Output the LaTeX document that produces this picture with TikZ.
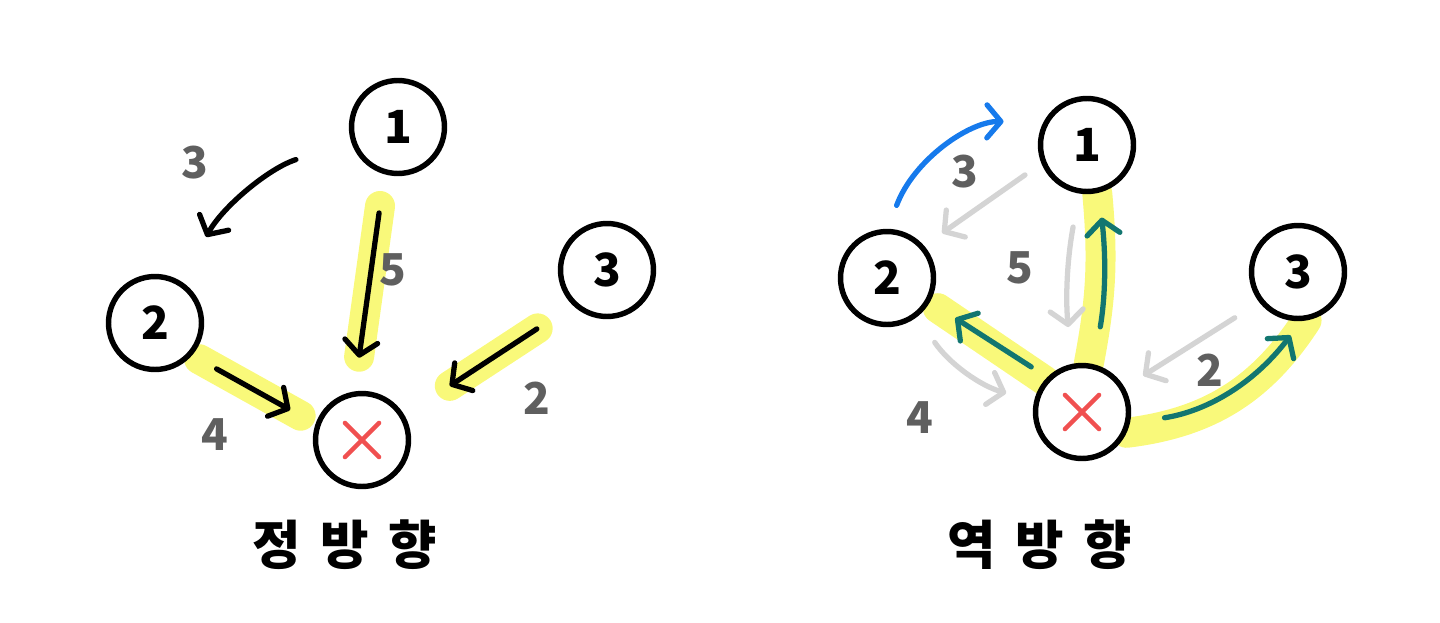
\documentclass[tikz,border=0pt]{standalone}
\usepackage{fontspec}
\usepackage{xcolor}
\usepackage{tikz}
\usetikzlibrary{arrows.meta,positioning}
\newfontfamily\kr{Noto Sans CJK KR}
\newfontfamily\krwide{Noto Sans CJK KR}[WordSpace=1.6]
\definecolor{hlyellow}{RGB}{249,249,122}
\definecolor{wgray}{RGB}{95,95,95}
\definecolor{ghostgray}{RGB}{212,212,212}
\definecolor{deepteal}{RGB}{18,118,112}
\definecolor{skyblue}{RGB}{22,122,236}
\definecolor{xred}{RGB}{240,80,80}
\pgfdeclarelayer{bg}
\pgfsetlayers{bg,main}

\begin{document}
\begin{tikzpicture}[x=0.02cm,y=-0.02cm,>={Straight Barb[length=2.8mm,width=6.6mm,round]},
  vertex/.style={circle,draw,fill=white,line width=3.1pt,minimum size=1.86cm,inner sep=0pt,
                 font=\kr\bfseries\fontsize{26}{26}\selectfont},
  weight/.style={text=wgray,font=\kr\bfseries\fontsize{25}{25}\selectfont},
  caption/.style={font=\krwide\bfseries\fontsize{30}{30}\selectfont},
  flow/.style={->,line width=3pt,line cap=round},
  glow/.style={draw=hlyellow,line width=0.6cm,line cap=round},
  cross/.style={draw=xred,line width=2.6pt,line cap=round}]
  \useasboundingbox (0,0) rectangle (1440,622);

  % forward
  \node[vertex] (l1) at (398,127) {1};
  \node[vertex] (l2) at (155,323) {2};
  \node[vertex] (l3) at (607,270) {3};
  \node[vertex] (lx) at (362,440) {};
  \begin{pgfonlayer}{bg}
    \draw[glow,shorten <=0.64cm,shorten >=0.7cm] (l1.254) -- (lx.99);
    \draw[glow,shorten <=0.16cm,shorten >=0.34cm] (l2.319) -- (lx.161);
    \draw[glow,shorten <=0.84cm,shorten >=1.08cm] (l3.226) -- (lx.30);
  \end{pgfonlayer}
  \draw[flow,shorten <=1.16cm,shorten >=1.02cm] (l1.198) to[bend right=22] (l2.57);
  \draw[flow,shorten <=0.78cm,shorten >=0.68cm] (l1.254) -- (lx.99);
  \draw[flow,shorten <=0.56cm,shorten >=0.58cm] (l2.319) -- (lx.161);
  \draw[flow,shorten <=0.86cm,shorten >=1.08cm] (l3.226) -- (lx.30);
  \node[weight] (lw12) at (195,163) {3};
  \node[weight] (lw1x) at (393,270) {5};
  \node[weight] (lw2x) at (215,435) {4};
  \node[weight] (lw3x) at (537,398) {2};
  \node[caption] (tfwd) at (345,545) {정 방 향};

  % reverse
  \node[vertex] (r1) at (1087,145) {1};
  \node[vertex] (r2) at (887,278) {2};
  \node[vertex] (r3) at (1298,272) {3};
  \node[vertex] (rx) at (1082,412) {};
  \begin{pgfonlayer}{bg}
    \draw[glow] (rx.82) to[bend right=8] (r1.282);
    \draw[glow,shorten >=0.2cm] (rx.140) -- (r2.330);
    \draw[glow] (rx.335) to[bend right=25] (r3.280);
  \end{pgfonlayer}
  \draw[flow,skyblue,shorten <=0.5cm,shorten >=0.8cm] (r2.89) to[bend left=35] (r1.152);
  \draw[flow,ghostgray,shorten <=0.4cm,shorten >=0.44cm] (r1.202) -- (r2.41);
  \draw[flow,ghostgray,shorten <=0.68cm,shorten >=0.74cm] (r1.261) to[bend right=8] (rx.102);
  \draw[flow,ghostgray,shorten <=0.62cm,shorten >=0.58cm] (r2.308) to[bend right=20] (rx.167);
  \draw[flow,ghostgray,shorten <=0.58cm,shorten >=0.44cm] (r3.218) -- (rx.30);
  \draw[flow,deepteal,shorten <=0.76cm,shorten >=0.5cm] (rx.76) to[bend right=8] (r1.284);
  \draw[flow,deepteal,shorten <=0.38cm,shorten >=0.6cm] (rx.135) -- (r2.331);
  \draw[flow,deepteal,shorten <=0.7cm,shorten >=0.36cm] (rx.347) to[bend right=22] (r3.274);
  \node[weight] (rw12) at (965,172) {3};
  \node[weight] (rw1x) at (1020,268) {5};
  \node[weight] (rw2x) at (920,418) {4};
  \node[weight] (rw3x) at (1210,370) {2};
  \node[caption] (trev) at (1040,545) {역 방 향};

  % dead end marks
  \foreach \n in {lx,rx} {
    \draw[cross] ([shift={(-17,-17)}]\n.center) -- ([shift={(17,17)}]\n.center);
    \draw[cross] ([shift={(-17,17)}]\n.center) -- ([shift={(17,-17)}]\n.center);
  }
\end{tikzpicture}
\end{document}
